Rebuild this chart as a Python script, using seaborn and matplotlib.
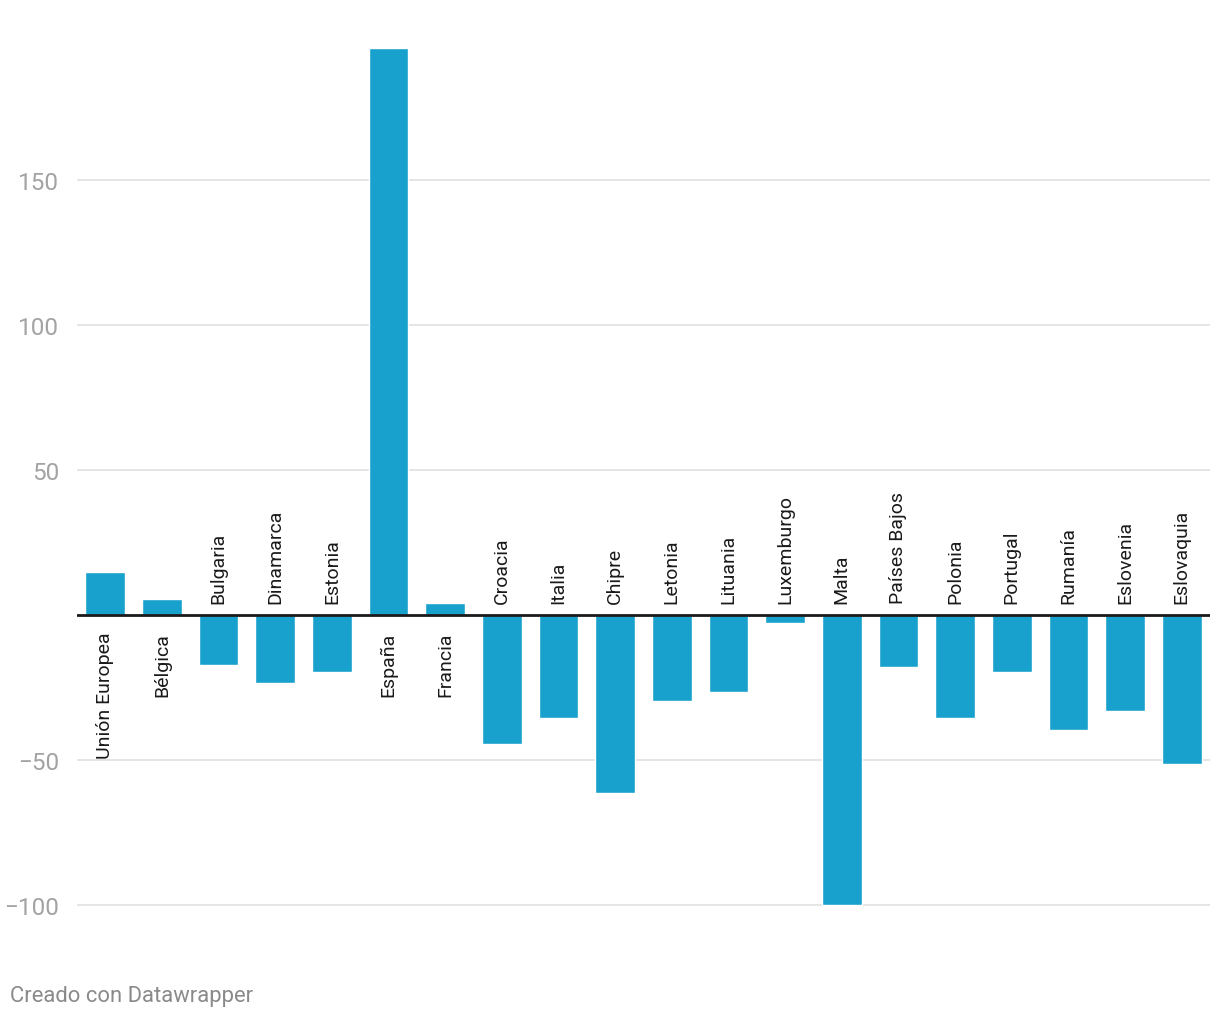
import pandas as pd
import matplotlib.pyplot as plt
import seaborn as sns

paises = [
    "Unión Europea", "Bélgica", "Bulgaria", "Dinamarca", "Estonia", "España",
    "Francia", "Croacia", "Italia", "Chipre", "Letonia", "Lituania",
    "Luxemburgo", "Malta", "Países Bajos", "Polonia", "Portugal", "Rumanía",
    "Eslovenia", "Eslovaquia",
]
valores = [
    14.8, 5.6, -17.2, -23.6, -19.8, 195.6,
    4.2, -44.6, -35.4, -61.2, -29.5, -26.7,
    -2.7, -100.0, -17.8, -35.4, -19.5, -39.6,
    -33.2, -51.5,
]
ticks = [-100, -50, 50, 100, 150]

BAR_COLOR = "#18a1cd"
GRID_COLOR = "#e3e3e3"
TICK_COLOR = "#a3a3a3"

df = pd.DataFrame({"pais": paises, "valor": valores})

sns.set_theme(style="white")
plt.rcParams["font.family"] = ["Roboto", "DejaVu Sans"]

fig = plt.figure(figsize=(12.2, 10.2), dpi=100)
ax = fig.add_axes([77 / 1220, 0.1103, 1133 / 1220, 0.959 - 0.1103])

sns.barplot(
    data=df, x="pais", y="valor", color=BAR_COLOR,
    width=0.7, saturation=1, ax=ax, zorder=3,
)

ax.set_ylim(-100.5, 198)
ax.set_xlim(-0.5, len(paises) - 0.5)
ax.set_yticks(ticks)
ax.set_yticklabels(["\u2212100", "\u221250", "50", "100", "150"])
ax.yaxis.grid(True, color=GRID_COLOR, linewidth=1.3, zorder=0)
ax.axhline(0, color="#1a1a1a", linewidth=2, zorder=4)

ax.tick_params(axis="y", length=0, pad=13, labelsize=17.5, labelcolor=TICK_COLOR)
ax.set_xticks([])
ax.set_xlabel("")
ax.set_ylabel("")
for s in ax.spines.values():
    s.set_visible(False)

# country names on the opposite side of the bar
for i, (p, v) in enumerate(zip(paises, valores)):
    if v >= 0:
        ax.annotate(p, (i, 0), xytext=(0, -12), textcoords="offset points",
                    rotation=90, ha="center", va="top", fontsize=14,
                    color="#1a1a1a")
    else:
        ax.annotate(p, (i, 0), xytext=(0, 9), textcoords="offset points",
                    rotation=90, ha="center", va="bottom", fontsize=14,
                    color="#1a1a1a")

fig.text(10 / 1220, 1 - 997 / 1020, "Creado con Datawrapper",
         fontsize=15.8, color="#8a8a8a", ha="left", va="center")

plt.savefig("out.png", dpi=100)
plt.close()
